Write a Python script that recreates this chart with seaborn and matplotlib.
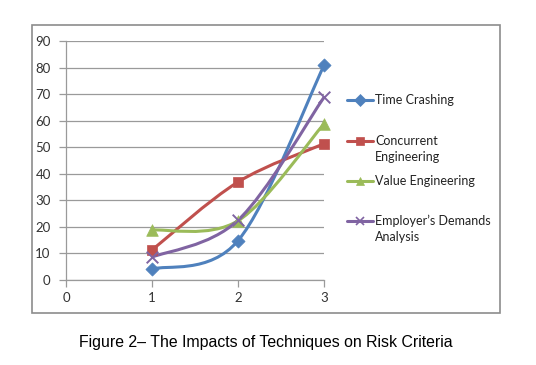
import numpy as np
import pandas as pd
import matplotlib
matplotlib.use("Agg")
import matplotlib.pyplot as plt
import seaborn as sns
from matplotlib.path import Path
from matplotlib.patches import PathPatch, Rectangle
from matplotlib.lines import Line2D

# --- data ---
x_vals = [1, 2, 3]
series_names = ["Time Crashing", "Concurrent Engineering", "Value Engineering",
                "Employer\u2019s Demands Analysis"]
time_crashing = [4.1, 14.8, 80.8]
concurrent_eng = [11.3, 36.9, 51.3]
value_eng = [18.8, 22.3, 58.8]
employer_demands = [8.6, 22.5, 68.8]
legend_labels = ["Time Crashing", "Concurrent\nEngineering", "Value Engineering",
                 "Employer\u2019s Demands\nAnalysis"]

colors = ["#4F81BD", "#C0504D", "#9BBB59", "#8064A2"]
markers = ["D", "s", "^", "x"]
marker_sizes = [45, 60, 70, 70]

df = pd.DataFrame({
    "x": x_vals * 4,
    "value": time_crashing + concurrent_eng + value_eng + employer_demands,
    "series": np.repeat(series_names, len(x_vals)),
})

sns.set_theme(style="white")
plt.rcParams["font.family"] = ["Lato", "DejaVu Sans"]

W, H = 536, 365
fig = plt.figure(figsize=(W / 100, H / 100), dpi=100)
ax = fig.add_axes([66 / W, 1 - 280 / H, (324 - 66) / W, (280 - 41) / H])


def smooth_path(xs, ys):
    # Excel-style smoothed line: cubic Bezier through the points (Catmull-Rom)
    pts = np.column_stack([xs, ys]).astype(float)
    verts = [pts[0]]
    codes = [Path.MOVETO]
    n = len(pts)
    for i in range(n - 1):
        p0 = pts[i - 1] if i > 0 else pts[i]
        p1, p2 = pts[i], pts[i + 1]
        p3 = pts[i + 2] if i + 2 < n else pts[i + 1]
        verts += [p1 + (p2 - p0) / 6, p2 - (p3 - p1) / 6, p2]
        codes += [Path.CURVE4] * 3
    return Path(verts, codes)


for name, c, m, s in zip(series_names, colors, markers, marker_sizes):
    sub = df[df["series"] == name]
    ax.add_patch(PathPatch(smooth_path(sub["x"], sub["value"]), facecolor="none",
                           edgecolor=c, lw=2.2, zorder=3, clip_on=False))
    sns.scatterplot(data=sub, x="x", y="value", marker=m, color=c, s=s,
                    edgecolor=c, linewidth=1.4 if m == "x" else 0.5,
                    ax=ax, zorder=4, clip_on=False, legend=False)

ax.set_xlim(0, 3)
ax.set_ylim(0, 90)
ax.set_xticks([0, 1, 2, 3])
ax.set_yticks(range(0, 91, 10))
ax.set_xlabel("")
ax.set_ylabel("")
ax.yaxis.grid(True, color="#9a9a9a", lw=0.9)
ax.xaxis.grid(False)
for side in ["top", "right"]:
    ax.spines[side].set_visible(False)
for side in ["left", "bottom"]:
    ax.spines[side].set_color("#9a9a9a")
    ax.spines[side].set_linewidth(0.9)
ax.tick_params(axis="both", which="major", direction="out", length=5, width=0.9,
               color="#9a9a9a", labelsize=9.5, labelcolor="#333333")
ax.tick_params(axis="y", left=True, pad=6)
ax.tick_params(axis="x", bottom=True, pad=4)

# legend drawn entry by entry, marker beside the first text line
legend_y = [100, 141, 181, 221]
for lab, c, m, y in zip(legend_labels, colors, markers, legend_y):
    yf = 1 - y / H
    fig.add_artist(Line2D([347 / W, 373 / W], [yf, yf], color=c, lw=2.2,
                          transform=fig.transFigure))
    fig.add_artist(Line2D([360 / W], [yf], color=c, marker=m, markersize=6,
                          markeredgewidth=1.2 if m == "x" else 0.5,
                          transform=fig.transFigure))
    for k, line in enumerate(lab.split("\n")):
        fig.text(375 / W, yf - k * 16 / H, line, fontsize=9, color="#222222",
                 va="center", ha="left")

# outer chart border
fig.add_artist(Rectangle((32 / W, 1 - 313 / H), 468 / W, 288 / H, fill=False,
                         edgecolor="#8c8c8c", lw=1.2, transform=fig.transFigure))

fig.text(266 / W, 1 - 342 / H, "Figure 2\u2013 The Impacts of Techniques on Risk Criteria",
         ha="center", va="center", fontsize=11.4, family="Liberation Sans", color="black")

fig.savefig("out.png", dpi=100)
